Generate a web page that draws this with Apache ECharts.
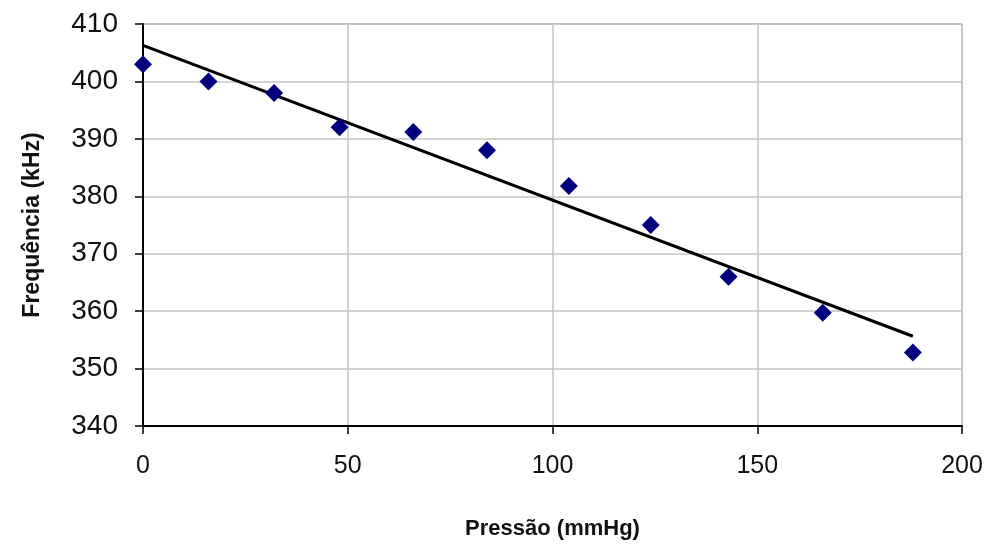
<!DOCTYPE html>
<html>
<head>
<meta charset="utf-8">
<script src="https://cdn.jsdelivr.net/npm/echarts@6/dist/echarts.min.js"></script>
<style>
  html, body { margin: 0; padding: 0; background: #fff; }
  #chart { width: 991px; height: 545px; }
</style>
</head>
<body>
<div id="chart"></div>
<script>
// Measured pressure (mmHg) and resonance frequency (kHz)
const pressure  = [0, 16, 32, 48, 66, 84, 104, 124, 143, 166, 188];
const frequency = [403, 400, 398, 392, 391.2, 388, 381.8, 375, 366, 359.7, 352.8];

// Axis ranges / tick spacing
const xTicks = [0, 50, 100, 150, 200];
const yTicks = [340, 350, 360, 370, 380, 390, 400, 410];

// Least-squares linear trendline over the measured range
function linearFit(xs, ys) {
  const n = xs.length;
  const mx = xs.reduce((a, b) => a + b, 0) / n;
  const my = ys.reduce((a, b) => a + b, 0) / n;
  let sxy = 0, sxx = 0;
  for (let i = 0; i < n; i++) {
    sxy += (xs[i] - mx) * (ys[i] - my);
    sxx += (xs[i] - mx) * (xs[i] - mx);
  }
  const slope = sxy / sxx;
  return { slope, intercept: my - slope * mx };
}
const fit = linearFit(pressure, frequency);
const xMin = Math.min(...pressure), xMax = Math.max(...pressure);
const trend = [
  [xMin, fit.intercept + fit.slope * xMin],
  [xMax, fit.intercept + fit.slope * xMax]
];

const points = pressure.map((p, i) => [p, frequency[i]]);

const chart = echarts.init(document.getElementById('chart'), null, { renderer: 'canvas' });
const font = 'Liberation Sans, Arial, sans-serif';

chart.setOption({
  animation: false,
  backgroundColor: '#ffffff',
  grid: {
    left: 143, right: 29, top: 24, bottom: 108,
    show: true, borderColor: '#8c8c8c', borderWidth: 1, backgroundColor: 'transparent'
  },
  xAxis: {
    type: 'value',
    min: xTicks[0], max: xTicks[xTicks.length - 1], interval: xTicks[1] - xTicks[0],
    name: 'Pressão (mmHg)',
    nameLocation: 'middle',
    nameGap: 92,
    nameTextStyle: { fontFamily: font, fontSize: 22, fontWeight: 'bold', color: '#111' },
    axisLine: { show: true, onZero: false, lineStyle: { color: '#000', width: 2 } },
    axisTick: { show: true, length: 8, lineStyle: { color: '#000', width: 1.5 } },
    axisLabel: { fontFamily: font, fontSize: 25, color: '#111', margin: 28 },
    splitLine: { show: true, lineStyle: { color: '#c4c4c4', width: 1.5 } }
  },
  yAxis: {
    type: 'value',
    min: yTicks[0], max: yTicks[yTicks.length - 1], interval: yTicks[1] - yTicks[0],
    name: 'Frequência (kHz)',
    nameLocation: 'middle',
    nameGap: 99,
    nameTextStyle: { fontFamily: font, fontSize: 23, fontWeight: 'bold', color: '#111' },
    axisLine: { show: true, onZero: false, lineStyle: { color: '#000', width: 2 } },
    axisTick: { show: true, length: 8, lineStyle: { color: '#000', width: 1.5 } },
    axisLabel: { fontFamily: font, fontSize: 28, color: '#111', margin: 25 },
    splitLine: { show: true, lineStyle: { color: '#c4c4c4', width: 1.5 } }
  },
  series: [
    {
      name: 'Trendline',
      type: 'line',
      data: trend,
      symbol: 'none',
      lineStyle: { color: '#000', width: 3 },
      z: 2
    },
    {
      name: 'Frequência',
      type: 'scatter',
      data: points,
      symbol: 'diamond',
      symbolSize: 18,
      itemStyle: { color: '#00007f', opacity: 1 },
      z: 3
    }
  ]
});
</script>
</body>
</html>
